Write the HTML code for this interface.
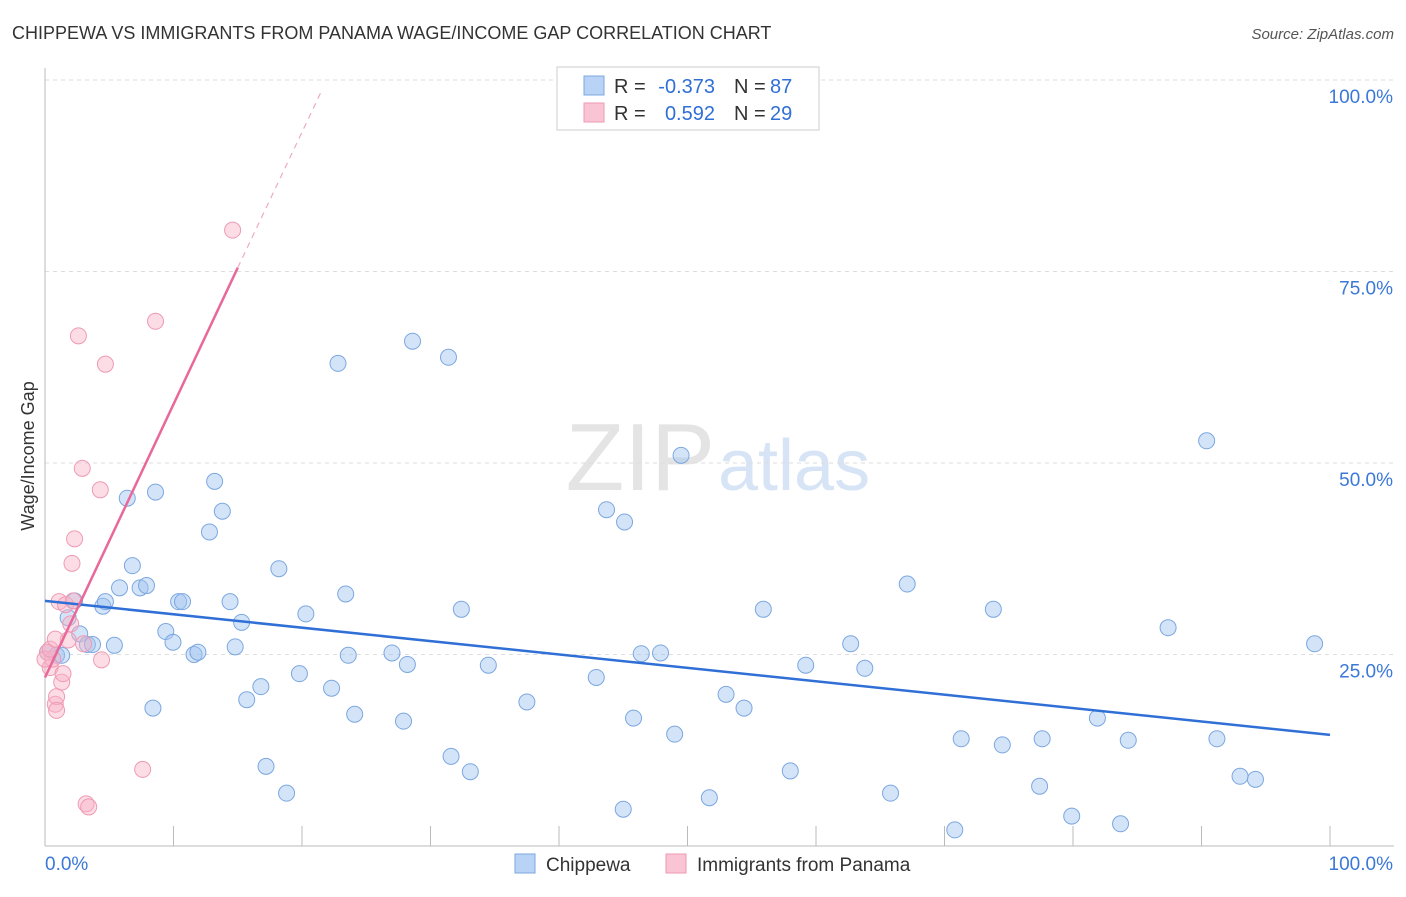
<!DOCTYPE html>
<html><head><meta charset="utf-8"><style>
body{margin:0;background:#fff;font-family:"Liberation Sans",sans-serif}
svg text{font-family:"Liberation Sans",sans-serif}
</style></head><body>
<svg id="chart" width="1406" height="892" xmlns="http://www.w3.org/2000/svg">
<text x="12" y="39" font-size="18" fill="#333">CHIPPEWA VS IMMIGRANTS FROM PANAMA WAGE/INCOME GAP CORRELATION CHART</text>
<text x="1394" y="39" font-size="15" fill="#555" font-style="italic" text-anchor="end">Source: ZipAtlas.com</text>
<text x="715" y="490" font-size="96" fill="#e4e4e4" text-anchor="end" font-family="Liberation Serif">ZIP</text>
<text x="718" y="490" font-size="72" fill="#d6e4f5">atlas</text>
<g id="grid"></g><g id="axes"></g><g id="marks"></g>
<g>
<rect x="557" y="67" width="262" height="63" fill="#fff" stroke="#ccc"/>
<rect x="584" y="76" width="20" height="19" fill="#b8d3f5" stroke="#7ba7e0"/>
<rect x="584" y="103" width="20" height="19" fill="#f9c4d3" stroke="#ee9ab3"/>
<text x="614" y="93" font-size="20" fill="#333">R =</text>
<text x="715" y="93" font-size="20" fill="#2f6fd6" text-anchor="end">-0.373</text>
<text x="734" y="93" font-size="20" fill="#333">N =</text>
<text x="770" y="93" font-size="20" fill="#2f6fd6">87</text>
<text x="614" y="120" font-size="20" fill="#333">R =</text>
<text x="715" y="120" font-size="20" fill="#2f6fd6" text-anchor="end">0.592</text>
<text x="734" y="120" font-size="20" fill="#333">N =</text>
<text x="770" y="120" font-size="20" fill="#2f6fd6">29</text>
</g>
<g>
<rect x="515" y="854" width="20" height="19" fill="#b8d3f5" stroke="#7ba7e0"/>
<text x="546" y="871" font-size="19" fill="#333">Chippewa</text>
<rect x="666" y="854" width="20" height="19" fill="#f9c4d3" stroke="#ee9ab3"/>
<text x="697" y="871" font-size="19" fill="#333">Immigrants from Panama</text>
</g>
<text transform="translate(34,456) rotate(-90)" font-size="18" fill="#333" text-anchor="middle">Wage/Income Gap</text>
</svg>
<script>
const blueX=[0.2,0.9,1.3,1.8,2.3,2.7,3.3,3.7,4.5,4.7,5.4,5.8,6.4,6.8,7.4,7.9,8.4,8.6,9.4,9.96,10.4,10.7,11.6,11.9,12.8,13.2,13.8,14.4,14.8,15.3,15.7,16.8,17.2,18.2,18.8,19.8,20.3,22.3,22.8,23.4,23.6,24.1,27,27.9,28.2,28.6,31.4,31.6,32.4,33.1,34.5,37.5,42.9,43.7,45,45.1,45.8,46.4,47.9,49,49.5,51.7,53,54.4,55.9,58,59.2,62.7,63.8,65.8,67.1,70.8,71.3,73.8,74.5,77.4,77.6,79.9,81.9,83.7,84.3,87.4,90.4,91.2,93,94.2,98.8];
const blueY=[25.3,24.9,24.9,29.8,32,27.7,26.3,26.3,31.3,31.9,26.2,33.7,45.4,36.6,33.7,34,18,46.2,28,26.6,31.9,31.9,25,25.3,41,47.6,43.7,31.9,26,29.2,19.1,20.8,10.4,36.2,6.9,22.5,30.3,20.6,63,32.9,24.9,17.2,25.2,16.3,23.7,65.9,63.8,11.7,30.9,9.7,23.6,18.8,22,43.9,4.8,42.3,16.7,25.1,25.2,14.6,51,6.3,19.8,18,30.9,9.8,23.6,26.4,23.2,6.9,34.2,2.1,14,30.9,13.2,7.8,14,3.9,16.7,2.9,13.8,28.5,52.9,14,9.1,8.7,26.4];
const pinkX=[0.2,0.4,0.6,0.8,0.9,0.9,1.1,1.3,1.4,1.6,1.8,2,2.1,2.3,2.2,2.6,2.9,3,3.2,3.4,4.3,4.4,4.7,7.6,8.6,14.6,0,0.4,0.8];
const pinkY=[25.3,23.3,24.4,18.5,19.5,17.7,31.9,21.4,22.5,31.5,26.9,29,36.9,40.1,32,66.6,49.3,26.4,5.5,5.1,46.5,24.3,62.9,10,68.5,80.4,24.4,25.7,27];
const yTicks=[25,50,75,100];
const blueLine=[[0,32],[100,14.5]], pinkLine=[[0,22],[15,75.5]], pinkDash=[[15,75.5],[21.5,98.5]];
const X=v=>45+v*12.85, Y=v=>846-v*7.66;
const NS="http://www.w3.org/2000/svg";
function mk(p,t,a){const e=document.createElementNS(NS,t);for(const k in a)e.setAttribute(k,a[k]);p.appendChild(e);return e;}
const grid=document.getElementById('grid'),axes=document.getElementById('axes'),marks=document.getElementById('marks');
yTicks.forEach(t=>{const l=mk(grid,'line',{x1:45,x2:1394,y1:Y(t),y2:Y(t),stroke:'#ddd','stroke-dasharray':'4,4'});


const tx=mk(axes,'text',{x:1393,y:Y(t)+23,'font-size':19,fill:'#3b78d8','text-anchor':'end'});tx.textContent=t.toFixed(1)+'%';

});
const ax=mk(axes,'line',{x1:45,x2:45,y1:68,y2:846,stroke:'#bbb'});


const bx=mk(axes,'line',{x1:45,x2:1394,y1:846,y2:846,stroke:'#bbb'});


for(let i=0;i<=10;i++){const t=mk(axes,'line',{x1:X(i*10),x2:X(i*10),y1:826,y2:846,stroke:'#bbb'});

}
[['0.0%',45,'start'],['100.0%',1393,'end']].forEach(d=>{const t=mk(axes,'text',{x:d[1],y:870,'font-size':19,fill:'#3b78d8','text-anchor':d[2]});t.textContent=d[0];

});
blueX.forEach((v,i)=>{const c=mk(marks,'circle',{cx:X(v),cy:Y(blueY[i]),r:8,fill:'rgba(160,196,240,0.45)',stroke:'#7ba7e0','stroke-width':1});

});
pinkX.forEach((v,i)=>{const c=mk(marks,'circle',{cx:X(v),cy:Y(pinkY[i]),r:8,fill:'rgba(248,180,200,0.45)',stroke:'#ee9ab3','stroke-width':1});

});
const l1=mk(marks,'line',{x1:X(blueLine[0][0]),y1:Y(blueLine[0][1]),x2:X(blueLine[1][0]),y2:Y(blueLine[1][1]),stroke:'#2f6fd6','stroke-width':2.5});


const l2=mk(marks,'line',{x1:X(pinkLine[0][0]),y1:Y(pinkLine[0][1]),x2:X(pinkLine[1][0]),y2:Y(pinkLine[1][1]),stroke:'#e8689a','stroke-width':2.5});


const l3=mk(marks,'line',{x1:X(pinkDash[0][0]),y1:Y(pinkDash[0][1]),x2:X(pinkDash[1][0]),y2:Y(pinkDash[1][1]),stroke:'#eeaac2','stroke-width':1.2,'stroke-dasharray':'6,5'});


</script>
</body></html>
